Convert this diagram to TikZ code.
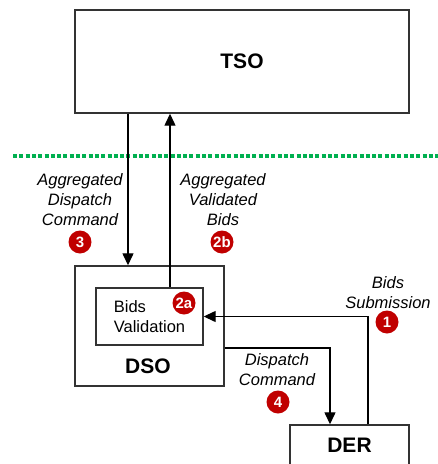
\documentclass[tikz,border=0pt]{standalone}
\usepackage{fontspec}
\setmainfont{Liberation Sans}
\usetikzlibrary{arrows.meta,calc}
\definecolor{badgered}{HTML}{C00000}
\definecolor{sepgreen}{HTML}{00B050}
\tikzset{
  box/.style={draw=black!80, line width=1.4pt, rectangle, inner sep=0pt},
  arr/.style={draw=black, line width=1.3pt, -{Triangle[length=12pt,width=11pt]}},
  lbl/.style={font=\fontsize{16.5}{20}\selectfont\itshape, align=center, inner sep=0pt},
  badge/.style={circle, fill=badgered, minimum size=23pt, inner sep=0pt, text=white, font=\fontsize{15}{15}\selectfont\bfseries},
  title/.style={font=\fontsize{21}{21}\selectfont\bfseries}
}
\begin{document}
\begin{tikzpicture}[x=1pt,y=-1pt]
\clip (0,0) rectangle (438,464);
\useasboundingbox (0,0) rectangle (438,464);
% separator
\coordinate (gl) at (13,155.5);
\coordinate (gr) at (440,155.5);
\draw[sepgreen, line width=4pt, dash pattern=on 4pt off 2.3pt] (gl) -- (gr);
% boxes
\node[box, minimum width=334pt, minimum height=103pt, title] (tso) at (242,61.5) {TSO};
\node[box, minimum width=149pt, minimum height=120pt] (dso) at (149.5,326) {};
\node[box, minimum width=107pt, minimum height=57pt, align=left, font=\fontsize{16.5}{20}\selectfont] (bv) at (149.5,316.5) {Bids\\Validation};
\node[title, inner sep=0pt] (dsolbl) at (148,366) {DSO};
\node[box, minimum width=119pt, minimum height=40pt, title] (der) at (349.5,445) {DER};
% connector helper coordinates
\coordinate (c3) at (128,0);
\coordinate (c2b) at (170,0);
\coordinate (c1) at (368,0);
\coordinate (c4) at (330,348);
% connectors
\draw[arr] (tso.south -| c3) -- (dso.north -| c3);
\draw[arr] (bv.north -| c2b) -- (tso.south -| c2b);
\draw[arr] (der.north -| c1) |- (bv.east);
\draw[arr] (dso.east |- c4) -| (der.north -| c4);
% labels
\node[lbl] (l3) at (80,200) {Aggregated\\Dispatch\\Command};
\node[badge] (b3) at (80,242) {3};
\node[lbl] (l2b) at (223,200) {Aggregated\\Validated\\Bids};
\node[badge] (b2b) at (222,242) {2b};
\node[badge] (b2a) at (184,303) {2a};
\node[lbl] (l1) at (388,293) {Bids\\Submission};
\node[badge] (b1) at (387,322) {1};
\node[lbl] (l4) at (277,370) {Dispatch\\Command};
\node[badge] (b4) at (278,402) {4};
\end{tikzpicture}
\end{document}
